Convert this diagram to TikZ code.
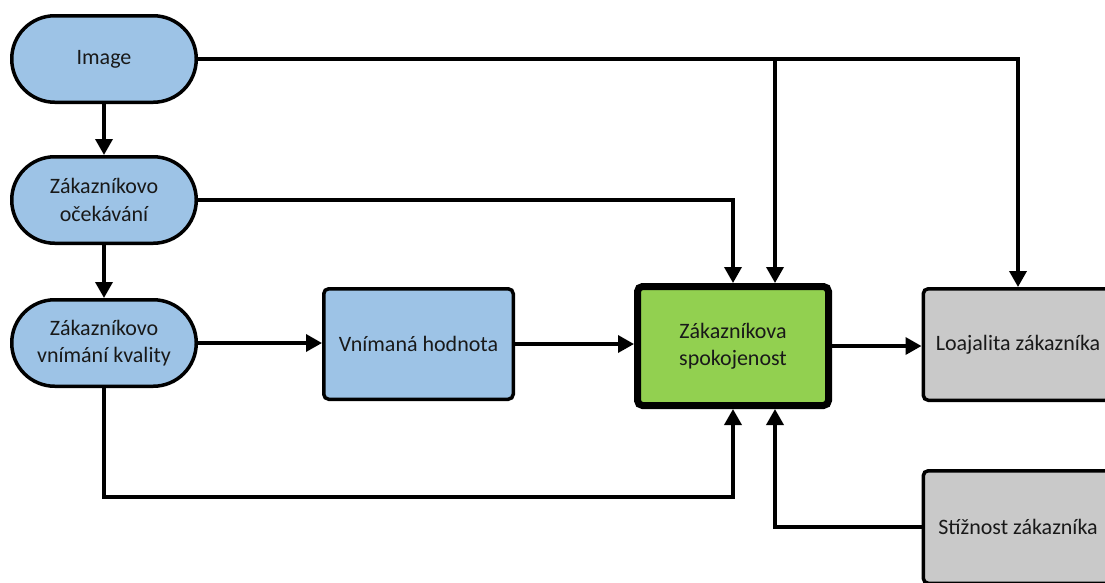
\documentclass[tikz,border=0pt]{standalone}
\usepackage{fontspec}
\setmainfont{Carlito}
\usetikzlibrary{arrows.meta,calc}
\definecolor{cblue}{HTML}{9DC3E6}
\definecolor{cgreen}{HTML}{92D050}
\definecolor{cgray}{HTML}{C9C9C9}
\begin{document}
\begin{tikzpicture}[x=1pt,y=-1pt,
  txt/.style={font=\fontsize{22}{27.5}\selectfont, align=center, text=black!90},
  stad/.style={txt, draw, line width=3.5pt, fill=cblue, rounded corners=43pt, minimum width=184.5pt, minimum height=86.5pt, inner sep=0pt},
  box/.style={txt, draw, line width=3.5pt, rounded corners=5pt, minimum width=189.5pt, minimum height=110.5pt, inner sep=0pt},
  arr/.style={line width=3.5pt, -{Triangle[length=16pt,width=17pt]}},
  ln/.style={line width=3.5pt}]
\clip (0,0) rectangle (1105,582);
\useasboundingbox (0,0) rectangle (1105,582);
\node[stad] (img) at (104,59) {Image};
\node[stad] (oc) at (104,200) {Zákazníkovo\\očekávání};
\node[stad] (kv) at (104,343) {Zákazníkovo\\vnímání kvality};
\node[box, fill=cblue] (vh) at (418.5,344) {Vnímaná hodnota};
\node[box, fill=cgreen, line width=7pt, minimum width=191pt, minimum height=119pt] (sp) at (733,346) {Zákazníkova\\spokojenost};
\node[box, fill=cgray, minimum height=111.5pt] (lo) at (1018,344.5) {Loajalita zákazníka};
\node[box, fill=cgray, minimum height=112.5pt] (st) at (1018,527) {Stížnost zákazníka};
\coordinate (spT) at ($(sp.north)+(42,0)$);
\coordinate (spB) at ($(sp.south)+(42,0)$);
\draw[arr] (img) -- (oc);
\draw[arr] (oc) -- (kv);
\draw[arr] (kv.east) -- (kv.east -| vh.west);
\draw[arr] (vh.east) -- (vh.east -| sp.west);
\draw[arr] (sp.east) -- (sp.east -| lo.west);
\draw[arr] (img.east) -| (lo.north);
\draw[arr] (img.east -| spT) -- (spT);
\draw[arr] (oc.east) -| (sp.north);
\draw[arr] (kv.south) |- (104,497) -| (sp.south);
\draw[arr] (st.west) -| (spB);
\end{tikzpicture}
\end{document}
